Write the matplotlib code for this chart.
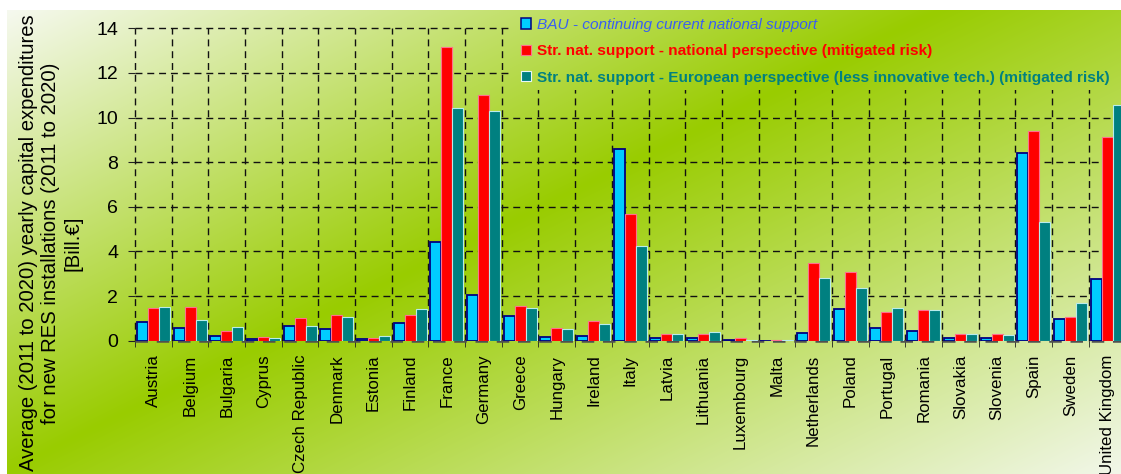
import numpy as np
import matplotlib
matplotlib.use('Agg')
import matplotlib.pyplot as plt
from matplotlib.patches import Patch

plt.rcParams['font.family'] = ['Liberation Sans', 'DejaVu Sans']

countries = ['Austria', 'Belgium', 'Bulgaria', 'Cyprus', 'Czech Republic', 'Denmark',
             'Estonia', 'Finland', 'France', 'Germany', 'Greece', 'Hungary', 'Ireland',
             'Italy', 'Latvia', 'Lithuania', 'Luxembourg', 'Malta', 'Netherlands',
             'Poland', 'Portugal', 'Romania', 'Slovakia', 'Slovenia', 'Spain', 'Sweden',
             'United Kingdom']
bau = [0.82, 0.55, 0.21, 0.06, 0.66, 0.51, 0.08, 0.79, 4.44, 2.04, 1.12, 0.18, 0.22,
       8.59, 0.12, 0.12, 0.03, 0.0, 0.36, 1.43, 0.55, 0.45, 0.13, 0.13, 8.39, 0.98, 2.78]
nat = [1.45, 1.49, 0.43, 0.15, 1.0, 1.13, 0.13, 1.13, 13.14, 11.0, 1.55, 0.55, 0.87,
       5.69, 0.30, 0.30, 0.10, 0.03, 3.50, 3.10, 1.27, 1.37, 0.30, 0.30, 9.39, 1.04, 9.14]
eur = [1.53, 0.94, 0.60, 0.10, 0.67, 1.04, 0.21, 1.40, 10.45, 10.30, 1.45, 0.54, 0.73,
       4.24, 0.29, 0.37, 0.02, 0.01, 2.83, 2.34, 1.45, 1.37, 0.30, 0.27, 5.34, 1.71, 10.57]
labels = ['BAU - continuing current national support',
          'Str. nat. support - national perspective (mitigated risk)',
          'Str. nat. support - European perspective (less innovative tech.) (mitigated risk)']
yticks = [0, 2, 4, 6, 8, 10, 12, 14]

W, H = 1121, 474


def background(w, h):
    # diagonal white -> green -> white wash
    yy, xx = np.mgrid[0:h, 0:w] + 0.5
    t = np.clip((0.443 * xx + 0.896 * yy - 12) / 910, 0, 1)
    stops = [0, 0.454, 1]
    cols = np.array([[246, 249, 240], [153, 204, 0], [242, 247, 234]]) / 255
    img = np.stack([np.interp(t, stops, cols[:, i]) for i in range(3)], axis=-1)
    img[:10, :] = 1
    img[:, :7] = 1
    return img


fig = plt.figure(figsize=(W / 100, H / 100), dpi=100)
grad = background(W, H)
bg = fig.add_axes([0, 0, 1, 1], zorder=0)
bg.imshow(grad, extent=[0, W, H, 0], aspect='auto', interpolation='nearest')
bg.set_xlim(0, W)
bg.set_ylim(H, 0)
bg.axis('off')

ax = fig.add_axes([135 / W, 1 - 340.7 / H, 990.4 / W, 312.4 / H], zorder=1)
ax.patch.set_alpha(0)
x = np.arange(len(countries))
w = 0.3
ax.bar(x - w, bau, w, color='#00ccff', edgecolor='#000080', linewidth=1.3, zorder=3)
ax.bar(x, nat, w, color='#ff0000', edgecolor='#ff6f8f', linewidth=0.8, zorder=3)
ax.bar(x + w, eur, w, color='#008080', edgecolor='#b8ecec', linewidth=0.8, zorder=3)

ax.set_xlim(-0.5, len(countries) - 0.5)
ax.set_ylim(0, 14)
ax.set_yticks(yticks)
ax.set_xticks(x)
ax.set_xticklabels(countries, rotation=90, fontsize=12.2)
ax.set_xticks(np.arange(-0.5, len(countries)), minor=True)
ax.tick_params(axis='x', which='major', length=0, pad=10)
ax.tick_params(axis='x', which='minor', length=4.5, direction='out', color='#222222')
ax.tick_params(axis='y', length=5, pad=7, labelsize=14, color='#222222')
for s in ax.spines.values():
    s.set_visible(False)

dash = (0, (5, 3.5))
for yv in yticks[1:]:
    ax.axhline(yv, ls=dash, color='#111111', lw=1.0, zorder=0.5, clip_on=False)
for xv in np.arange(-0.5, len(countries)):
    ax.axvline(xv, ls=dash, color='#111111', lw=1.0, zorder=0.5, clip_on=False)
ax.axhline(0, ls=dash, color='#505050', lw=1.8, zorder=2, clip_on=False)

fig.text(0.045, 0.487,
         'Average (2011 to 2020) yearly capital expenditures\n'
         'for new RES installations (2011 to 2020)\n[Bill.€]',
         rotation=90, ha='center', va='center', fontsize=14.6, linespacing=1.22,
         multialignment='center')

# patch of background behind the legend, hides the grid there
mx = fig.add_axes([512 / W, 1 - 90 / H, (W - 512) / W, 90 / H], zorder=2)
mx.imshow(grad, extent=[0, W, H, 0], aspect='auto', interpolation='nearest')
mx.set_xlim(512, W)
mx.set_ylim(90, 0)
mx.axis('off')

handles = [Patch(fc='#00ccff', ec='#000080', lw=1.1),
           Patch(fc='#ff0000', ec='#ff6f8f', lw=0.8),
           Patch(fc='#008080', ec='#e8f8f8', lw=0.8)]
leg = fig.legend(handles, labels, loc='upper left', bbox_to_anchor=(521 / W, 1 - 18 / H),
                 frameon=False, fontsize=11.1, handlelength=0.66, handleheight=0.66,
                 handletextpad=0.35, labelspacing=0.8, borderpad=0, borderaxespad=0)
txts = leg.get_texts()
for t, c in zip(txts, ['#3a5ff0', '#ff0000', '#008080']):
    t.set_color(c)
txts[0].set_style('italic')
txts[1].set_weight('bold')
txts[2].set_weight('bold')

fig.savefig('out.png', dpi=100)
